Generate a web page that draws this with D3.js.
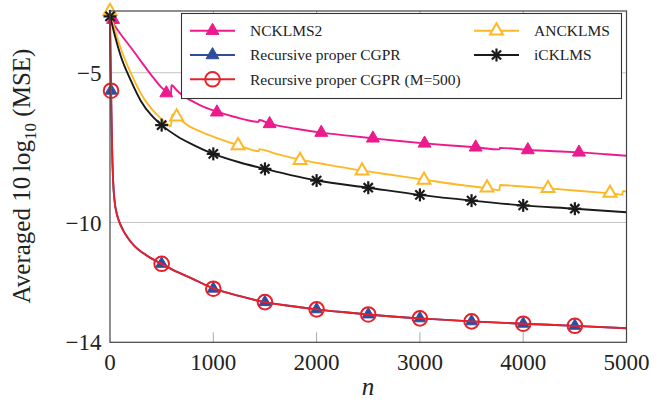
<!DOCTYPE html>
<html>
<head>
<meta charset="utf-8">
<script src="https://cdn.jsdelivr.net/npm/d3@7"></script>
<style>
  body { margin: 0; background: #fff; }
  svg { display: block; }
  text { font-family: "Liberation Serif", "Times New Roman", serif; fill: #222; }
</style>
</head>
<body>
<svg id="chart" width="667" height="403"></svg>
<script>
// ---- data: [n, averaged 10log10(MSE)] ----
const xTicks = [0, 1000, 2000, 3000, 4000, 5000];
const yTicks = [-14, -10, -5];

const ncklms2 = [[0,-3.2],[100,-3.7],[200,-4.15],[300,-4.62],[400,-5.08],[500,-5.5],[545,-5.64],[590,-5.72],
  [595,-5.42],[650,-5.6],[710,-5.78],[800,-5.96],[870,-6.08],[950,-6.2],[1035,-6.3],[1200,-6.47],[1440,-6.64],
  [1445,-6.58],[1545,-6.7],[1800,-6.87],[2045,-7.0],[2300,-7.1],[2545,-7.19],[2800,-7.28],[3045,-7.36],
  [3300,-7.43],[3540,-7.49],[3770,-7.56],[3775,-7.51],[4045,-7.58],[4300,-7.62],[4540,-7.66],[4800,-7.72],[5000,-7.77]];
const ncklms2Marks = [[30,-3.23],[545,-5.68],[1035,-6.32],[1545,-6.71],[2045,-7.0],[2545,-7.19],[3045,-7.36],[3540,-7.49],[4045,-7.58],[4540,-7.66]];

const anckl = [[0,-2.95],[50,-3.6],[100,-4.15],[200,-5.0],[300,-5.7],[400,-6.2],[500,-6.55],[590,-6.78],
  [600,-6.4],[645,-6.48],[750,-6.75],[900,-7.0],[1050,-7.2],[1240,-7.42],[1440,-7.62],[1445,-7.55],[1600,-7.7],
  [1840,-7.9],[2100,-8.07],[2440,-8.27],[2700,-8.4],[3040,-8.57],[3400,-8.75],[3650,-8.86],[3770,-8.92],
  [3775,-8.75],[4000,-8.8],[4240,-8.86],[4500,-8.93],[4840,-9.03],[4960,-9.07],[4965,-8.95],[5000,-8.96]];
const ancklMarks = [[0,-2.95],[645,-6.47],[1240,-7.43],[1840,-7.92],[2440,-8.27],[3040,-8.58],[3650,-8.84],[4240,-8.86],[4840,-9.02]];

const icklms = [[0,-3.1],[50,-3.8],[100,-4.4],[200,-5.25],[300,-5.95],[400,-6.42],[500,-6.75],[650,-7.12],
  [800,-7.4],[1000,-7.71],[1250,-7.99],[1500,-8.21],[1750,-8.42],[2000,-8.6],[2500,-8.84],[3000,-9.08],
  [3500,-9.27],[4000,-9.43],[4500,-9.54],[5000,-9.66]];
const icklmsMarks = [[0,-3.12],[500,-6.75],[1000,-7.71],[1500,-8.21],[2000,-8.6],[2500,-8.84],[3000,-9.08],[3500,-9.27],[4000,-9.43],[4500,-9.54]];

const cgpr = [[0,-3.25],[10,-5.6],[20,-7.5],[30,-8.6],[45,-9.3],[65,-9.7],[90,-9.98],[130,-10.28],[180,-10.55],
  [240,-10.8],[320,-11.02],[400,-11.2],[500,-11.38],[650,-11.65],[800,-11.88],[1000,-12.2],[1250,-12.45],[1500,-12.66],
  [1750,-12.79],[2000,-12.9],[2250,-12.99],[2500,-13.07],[3000,-13.2],[3500,-13.3],[4000,-13.38],[4500,-13.45],[5000,-13.53]];
const cgprMarks = [[10,-5.6],[500,-11.38],[1000,-12.21],[1500,-12.66],[2000,-12.9],[2500,-13.07],[3000,-13.2],[3500,-13.3],[4000,-13.38],[4500,-13.45]];
const cgprM500 = cgpr.map(d => d.slice());
const cgprM500Marks = cgprMarks.map(d => d.slice());

const series = [
  {name: "NCKLMS2", data: ncklms2, marks: ncklms2Marks, color: "#ec1a8d", mark: "tri", fill: "#ec1a8d"},
  {name: "ANCKLMS", data: anckl, marks: ancklMarks, color: "#fdb827", mark: "tri", fill: "#fff"},
  {name: "Recursive proper CGPR", data: cgpr, marks: cgprMarks, color: "#2e4d9e", mark: "tri", fill: "#2e4d9e"},
  {name: "iCKLMS", data: icklms, marks: icklmsMarks, color: "#1a1a1a", mark: "star"},
  {name: "Recursive proper CGPR (M=500)", data: cgprM500, marks: cgprM500Marks, color: "#e8202a", mark: "circle"}
];

const svg = d3.select("#chart");
const pLeft = 110, pRight = 626.5, pTop = 11, pBottom = 342.3;

const x = d3.scaleLinear().domain([0, 5000]).range([pLeft, pRight]);
const y = d3.scaleLinear().domain([-14, -2.94]).range([pBottom, pTop]);

// grid on y, inner ticks on x
svg.append("g").selectAll("line").data(yTicks.filter(t => t > -14)).join("line")
  .attr("x1", pLeft).attr("x2", pRight)
  .attr("y1", d => y(d)).attr("y2", d => y(d))
  .attr("stroke", "#c4c4c4").attr("stroke-width", 1);
svg.append("g").selectAll("line").data(xTicks.slice(1, -1)).join("line")
  .attr("x1", d => x(d)).attr("x2", d => x(d))
  .attr("y1", pBottom).attr("y2", pBottom - 10)
  .attr("stroke", "#aaa").attr("stroke-width", 1);
svg.append("g").selectAll("line").data(xTicks.slice(1, -1)).join("line")
  .attr("x1", d => x(d)).attr("x2", d => x(d))
  .attr("y1", pTop).attr("y2", pTop + 10)
  .attr("stroke", "#aaa").attr("stroke-width", 1);

// tick labels
svg.append("g").selectAll("text").data(xTicks).join("text")
  .attr("x", d => x(d)).attr("y", 370)
  .attr("text-anchor", "middle").attr("font-size", 23)
  .text(d => d);
svg.append("g").selectAll("text").data(yTicks).join("text")
  .attr("x", 101.5).attr("y", d => y(d)).attr("dy", "0.35em")
  .attr("text-anchor", "end").attr("font-size", 23)
  .text(d => "\u2212" + Math.abs(d));

// axis labels
svg.append("text").attr("x", 368).attr("y", 395)
  .attr("text-anchor", "middle").attr("font-size", 25).attr("font-style", "italic").text("n");
const yl = svg.append("text").attr("transform", "translate(30,176) rotate(-90)")
  .attr("text-anchor", "middle").attr("font-size", 25);
yl.append("tspan").text("Averaged 10\u2009log");
yl.append("tspan").attr("font-size", 17).attr("dy", 6).text("10");
yl.append("tspan").attr("dy", -6).text(" (MSE)");

// curves
const line = d3.line().x(d => x(d[0])).y(d => y(d[1])).curve(d3.curveMonotoneX);

function drawMark(g, kind, color, fill, size) {
  if (kind === "tri") {
    g.append("path").attr("d", d3.symbol(d3.symbolTriangle, size || 70)())
      .attr("fill", fill).attr("stroke", color).attr("stroke-width", fill === "#fff" ? 2 : 1);
  } else if (kind === "circle") {
    g.append("circle").attr("r", 7.3).attr("fill", "none").attr("stroke", color).attr("stroke-width", 2);
  } else if (kind === "star") {
    for (let a = 0; a < 4; a++) {
      const t = a * Math.PI / 4;
      g.append("line")
        .attr("x1", -6.5 * Math.cos(t)).attr("y1", -6.5 * Math.sin(t))
        .attr("x2", 6.5 * Math.cos(t)).attr("y2", 6.5 * Math.sin(t))
        .attr("stroke", color).attr("stroke-width", 2.2);
    }
  }
}

const plot = svg.append("g");
series.forEach(s => {
  plot.append("path").datum(s.data)
    .attr("d", line).attr("fill", "none")
    .attr("stroke", s.color).attr("stroke-width", 1.9);
  s.marks.forEach(m => {
    const g = plot.append("g").attr("transform", `translate(${x(m[0])},${y(m[1])})`);
    drawMark(g, s.mark, s.color, s.fill, s.name === "Recursive proper CGPR" ? 62 : 72);
  });
});

// frame
svg.append("rect").attr("x", pLeft).attr("y", pTop)
  .attr("width", pRight - pLeft).attr("height", pBottom - pTop)
  .attr("fill", "none").attr("stroke", "#444").attr("stroke-width", 1.2);

// legend
const leg = svg.append("g");
leg.append("rect").attr("x", 181.5).attr("y", 13.5).attr("width", 440).attr("height", 85)
  .attr("fill", "#fff").attr("stroke", "#333").attr("stroke-width", 1.1);
const legendPos = [
  {s: 0, lx: 190, ty: 30.7}, {s: 1, lx: 474, ty: 30.7},
  {s: 2, lx: 190, ty: 55}, {s: 3, lx: 474, ty: 55},
  {s: 4, lx: 190, ty: 79.3}
];
legendPos.forEach(p => {
  const s = series[p.s];
  leg.append("line").attr("x1", p.lx).attr("x2", p.lx + 45)
    .attr("y1", p.ty).attr("y2", p.ty)
    .attr("stroke", s.color).attr("stroke-width", 1.9);
  const g = leg.append("g").attr("transform", `translate(${p.lx + 22.5},${p.ty})`);
  drawMark(g, s.mark, s.color, s.fill, 72);
  leg.append("text").attr("x", p.lx + 60).attr("y", p.ty).attr("dy", "0.35em")
    .attr("font-size", 15.5).text(s.name);
});
</script>
</body>
</html>
